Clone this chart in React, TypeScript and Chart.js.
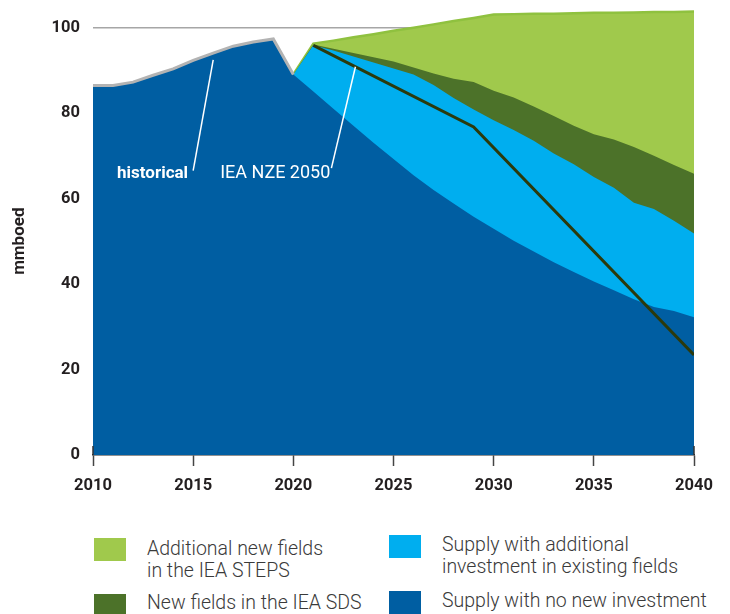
import React, { useEffect, useRef } from "react";
import { Chart, registerables } from "chart.js";

Chart.register(...registerables);

const years = [
  2010, 2011, 2012, 2013, 2014, 2015, 2016, 2017, 2018, 2019, 2020,
  2021, 2022, 2023, 2024, 2025, 2026, 2027, 2028, 2029, 2030,
  2031, 2032, 2033, 2034, 2035, 2036, 2037, 2038, 2039, 2040,
];

const historical = [
  86.4, 86.4, 87.2, 88.8, 90.3, 92.3, 94.0, 95.6, 96.6, 97.3, 89.0,
  null, null, null, null, null, null, null, null, null, null,
  null, null, null, null, null, null, null, null, null, null,
];

// Supply with no new investment (top of dark blue area)
const noNewInvestment = [
  86.4, 86.4, 87.2, 88.8, 90.3, 92.3, 94.0, 95.6, 96.6, 97.3, 89.0,
  85.0, 81.0, 77.0, 73.0, 69.2, 65.4, 62.0, 58.8, 55.7, 52.9,
  50.1, 47.6, 45.1, 42.8, 40.6, 38.5, 36.4, 34.6, 33.7, 32.2,
];

// + additional investment in existing fields (top of light blue area)
const existingFieldsTop = [
  null, null, null, null, null, null, null, null, null, null, 89.0,
  95.8, 94.6, 93.2, 91.8, 90.4, 89.0, 86.5, 83.5, 80.8, 78.3,
  76.0, 73.5, 70.5, 68.0, 65.0, 62.5, 59.0, 57.5, 54.8, 51.8,
];

// + new fields in the IEA SDS (top of dark green area)
const sdsTop = [
  null, null, null, null, null, null, null, null, null, null, 89.0,
  96.0, 95.0, 94.0, 93.0, 92.0, 90.6, 89.2, 88.0, 87.2, 85.2,
  83.6, 81.5, 79.3, 77.0, 75.0, 73.8, 72.0, 70.0, 67.8, 65.8,
];

// + additional new fields in the IEA STEPS (top of light green area)
const stepsTop = [
  null, null, null, null, null, null, null, null, null, null, 89.0,
  96.2, 96.9, 97.7, 98.4, 99.2, 99.9, 100.7, 101.5, 102.2, 103.0,
  103.1, 103.2, 103.2, 103.3, 103.4, 103.4, 103.5, 103.6, 103.6, 103.7,
];

// IEA NZE 2050 pathway
const nze2050 = [
  null, null, null, null, null, null, null, null, null, null, null,
  95.8, null, null, null, null, null, null, null, 76.7, null,
  null, null, null, null, null, null, null, null, null, 23.4,
];

const yTicks = [0, 20, 40, 60, 80, 100];
const xTicks = [2010, 2015, 2020, 2025, 2030, 2035, 2040];

const annotations = [
  { text: "historical", bold: true, x: 2011.2, y: 65.0, lineFrom: [2015.0, 66.5], lineTo: [2016.0, 92.4] },
  { text: "IEA NZE 2050", bold: false, x: 2016.35, y: 65.0, lineFrom: [2021.9, 67.1], lineTo: [2023.1, 90.8] },
];

const legendItems = [
  { color: "#a0c94c", lines: ["Additional new fields", "in the IEA STEPS"], left: 94, top: 538, tTop: 538 },
  { color: "#4c7229", lines: ["New fields in the IEA SDS"], left: 94, top: 594, tTop: 592 },
  { color: "#00aeef", lines: ["Supply with additional", "investment in existing fields"], left: 389, top: 535, tTop: 534 },
  { color: "#005ea2", lines: ["Supply with no new investment"], left: 389, top: 591, tTop: 590 },
];

const FONT = "Roboto, 'Open Sans', sans-serif";

const pts = (arr: (number | null)[]) => years.map((x, i) => ({ x, y: arr[i] }));

export default function App() {
  const ref = useRef<HTMLCanvasElement | null>(null);

  useEffect(() => {
    document.body.style.margin = "0";
    const canvas = ref.current!;
    const overlay = {
      id: "overlay",
      afterDatasetsDraw(chart: any) {
        const { ctx } = chart;
        const xs = chart.scales.x;
        const ys = chart.scales.y;
        ctx.save();
        for (const a of annotations) {
          ctx.fillStyle = "#ffffff";
          ctx.font = `${a.bold ? "bold " : ""}${a.bold ? 17 : 18}px ${FONT}`;
          ctx.textAlign = "left";
          ctx.textBaseline = "alphabetic";
          ctx.fillText(a.text, xs.getPixelForValue(a.x), ys.getPixelForValue(a.y) + 1);
          ctx.strokeStyle = "#ffffff";
          ctx.lineWidth = 1.5;
          ctx.beginPath();
          ctx.moveTo(xs.getPixelForValue(a.lineFrom[0]), ys.getPixelForValue(a.lineFrom[1]));
          ctx.lineTo(xs.getPixelForValue(a.lineTo[0]), ys.getPixelForValue(a.lineTo[1]));
          ctx.stroke();
        }
        ctx.restore();
      },
      afterDraw(chart: any) {
        const { ctx, chartArea } = chart;
        const xs = chart.scales.x;
        const ys = chart.scales.y;
        ctx.save();
        // y-axis title
        ctx.translate(20, (ys.getPixelForValue(100) + ys.getPixelForValue(0)) / 2);
        ctx.rotate(-Math.PI / 2);
        ctx.font = `bold 17px ${FONT}`;
        ctx.fillStyle = "#231f20";
        ctx.textAlign = "center";
        ctx.textBaseline = "middle";
        ctx.fillText("mmboed", 0, 0);
        ctx.restore();
        // end ticks rising above the axis
        ctx.save();
        ctx.strokeStyle = "#333333";
        ctx.lineWidth = 1.5;
        const y0 = chartArea.bottom;
        for (const v of [xTicks[0], xTicks[xTicks.length - 1]]) {
          const px = xs.getPixelForValue(v);
          ctx.beginPath();
          ctx.moveTo(px, y0 - 9);
          ctx.lineTo(px, y0);
          ctx.stroke();
        }
        ctx.restore();
      },
    };

    const chart = new Chart(canvas, {
      type: "line",
      data: {
        datasets: [
          {
            label: "IEA NZE 2050",
            data: pts(nze2050),
            borderColor: "#2b3a0c",
            borderWidth: 3,
            pointRadius: 0,
            spanGaps: true,
            fill: false,
          },
          {
            label: "historical",
            data: pts(historical),
            borderColor: "#b3b3b3",
            borderWidth: 3,
            pointRadius: 0,
            fill: false,
          },
          {
            label: "Supply with no new investment",
            data: pts(noNewInvestment),
            borderColor: "#005ea2",
            borderWidth: 0,
            backgroundColor: "#005ea2",
            pointRadius: 0,
            fill: "origin",
          },
          {
            label: "Supply with additional investment in existing fields",
            data: pts(existingFieldsTop),
            borderColor: "#00aeef",
            borderWidth: 0,
            backgroundColor: "#00aeef",
            pointRadius: 0,
            fill: "origin",
          },
          {
            label: "New fields in the IEA SDS",
            data: pts(sdsTop),
            borderColor: "#4c7229",
            borderWidth: 0,
            backgroundColor: "#4c7229",
            pointRadius: 0,
            fill: "origin",
          },
          {
            label: "Additional new fields in the IEA STEPS",
            data: pts(stepsTop),
            borderColor: "#8fc13f",
            borderWidth: 2.5,
            backgroundColor: "#a0c94c",
            pointRadius: 0,
            fill: "origin",
          },
        ],
      },
      options: {
        animation: false,
        responsive: false,
        layout: { padding: { top: 6, right: 36, left: 0, bottom: 0 } },
        plugins: {
          legend: { display: false },
          tooltip: { enabled: false },
        },
        elements: { line: { tension: 0 } },
        scales: {
          x: {
            type: "linear",
            min: 2010,
            max: 2040,
            afterBuildTicks: (axis: any) => {
              axis.ticks = xTicks.map((v) => ({ value: v }));
            },
            afterFit: (scale: any) => {
              scale.height = 45;
              scale.paddingLeft = 0;
              scale.paddingRight = 0;
            },
            ticks: {
              padding: 10,
              color: "#231f20",
              font: { family: FONT, size: 16.5, weight: "bold" },
              callback: (v: any) => String(v),
              maxRotation: 0,
            },
            grid: {
              drawOnChartArea: false,
              drawTicks: true,
              tickLength: 11,
              tickColor: "#444444",
              tickWidth: 1.5,
            },
            border: { display: true, color: "#222222", width: 1.5 },
          },
          y: {
            type: "linear",
            min: 0,
            max: 105,
            afterBuildTicks: (axis: any) => {
              axis.ticks = yTicks.map((v) => ({ value: v }));
            },
            afterFit: (scale: any) => {
              scale.width = 93;
              scale.paddingTop = 0;
              scale.paddingBottom = 0;
            },
            ticks: {
              padding: 13,
              color: "#231f20",
              font: { family: FONT, size: 16.5, weight: "bold" },
            },
            grid: {
              drawTicks: false,
              color: (c: any) => (c.tick && c.tick.value === 100 ? "#a6a6a6" : "rgba(0,0,0,0)"),
              lineWidth: 1.5,
            },
            border: { display: false },
          },
        },
      },
      plugins: [overlay],
    });
    return () => chart.destroy();
  }, []);

  return (
    <div style={{ position: "relative", width: 730, height: 614, fontFamily: FONT, overflow: "hidden" }}>
      <canvas ref={ref} width={730} height={500} style={{ position: "absolute", left: 0, top: 0 }} />
      {legendItems.map((it) => (
        <React.Fragment key={it.lines.join(" ")}>
          <div
            style={{
              position: "absolute",
              left: it.left,
              top: it.top,
              width: 32,
              height: 23,
              background: it.color,
            }}
          />
          <div
            style={{
              position: "absolute",
              left: it.left + 53,
              top: it.tTop,
              fontSize: 19.5,
              fontWeight: 300,
              lineHeight: "22px",
              color: "#3a3a3a",
              whiteSpace: "nowrap",
            }}
          >
            {it.lines.map((l) => (
              <div key={l}>{l}</div>
            ))}
          </div>
        </React.Fragment>
      ))}
    </div>
  );
}
